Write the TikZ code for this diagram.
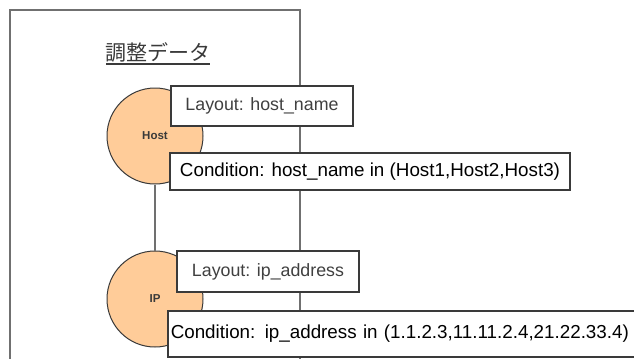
\documentclass[tikz,border=0pt]{standalone}
\usepackage{fontspec}
\setmainfont{Liberation Sans}
\newfontfamily\cjk{Noto Sans CJK JP}
\definecolor{peach}{HTML}{FFCC99}
\definecolor{framegray}{HTML}{707070}
\definecolor{edgegray}{HTML}{3A3A3A}
\definecolor{laytext}{HTML}{404040}
\begin{document}
\begin{tikzpicture}[x=1bp,y=-1bp,
  entity/.style={circle, draw=edgegray, line width=1bp, fill=peach, minimum size=96bp, inner sep=0pt,
    font=\fontsize{11.5bp}{13bp}\selectfont\bfseries, text=edgegray},
  laybox/.style={draw=edgegray, line width=1.5bp, fill=white, inner sep=0pt,
    font=\fontsize{17.8bp}{20bp}\selectfont, text=laytext},
  condbox/.style={draw=edgegray, line width=1.5bp, fill=white, inner sep=0pt,
    font=\fontsize{18.8bp}{21bp}\selectfont, text=black},
  link/.style={draw=framegray, line width=1.8bp}]
\useasboundingbox (0,0) rectangle (634,358);
\clip (0,0) rectangle (634,358);
% frame
\draw[framegray, line width=1.8bp] (10,400) -- (10,10) -- (300,10) -- (300,400);
% title
\node[font=\cjk\fontsize{21bp}{24bp}\selectfont, text=edgegray, inner sep=0pt] (title) at (158,52) {調整データ};
\draw[edgegray, line width=1.2bp] (106,64) -- (210,64);
% entities
\node[entity] (host) at (155,136) {Host};
\node[entity] (ip) at (155,299) {IP};
\draw[link] (host) -- (ip);
% boxes
\node[laybox, minimum width=182bp, minimum height=40bp] (lay1) at (262,106) {Layout: host\_name};
\node[condbox, minimum width=400bp, minimum height=37bp] (cond1) at (370,171.5) {Condition: host\_name in (Host1,Host2,Host3)};
\node[laybox, minimum width=182bp, minimum height=41bp] (lay2) at (268,271.5) {Layout: ip\_address};
\node[condbox, anchor=west, minimum height=46bp, inner xsep=3bp, text width=480bp, align=left] (cond2) at (167,334) {Condition: ip\_address in (1.1.2.3,11.11.2.4,21.22.33.4)};
\end{tikzpicture}
\end{document}
